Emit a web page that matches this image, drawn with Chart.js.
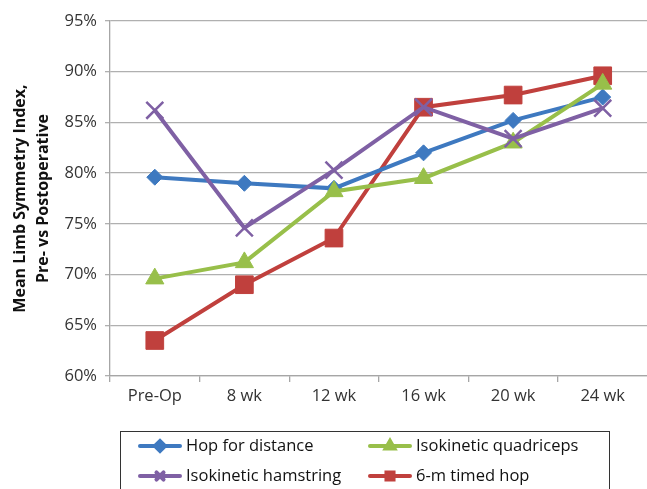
<!DOCTYPE html>
<html>
<head>
<meta charset="utf-8">
<script src="https://cdn.jsdelivr.net/npm/chart.js@4"></script>
<style>
  html, body { margin: 0; padding: 0; background: #fff; overflow: hidden; width: 647px; height: 489px; }
  canvas { display: block; }
</style>
</head>
<body>
<!-- canvas is a bit wider than the window: chart.js keeps ~15px on the right, that part is cut off -->
<canvas id="lsiChart" width="662" height="489"></canvas>
<script>
// categories and series (values in %)
var weeks = ['Pre-Op', '8 wk', '12 wk', '16 wk', '20 wk', '24 wk'];
var hopDistance = [79.6, 79.0, 78.5, 82.0, 85.2, 87.5];
var isoQuad = [69.6, 71.2, 78.2, 79.5, 83.0, 88.8];
var isoHam = [86.2, 74.6, 80.3, 86.5, 83.4, 86.4];
var timedHop = [63.5, 69.0, 73.6, 86.5, 87.7, 89.6];

var FONT = "'Open Sans', 'Liberation Sans', sans-serif";

//-----------------custom boxed legend-----------------------
const boxLegend = {
  id: 'boxLegend',
  afterDraw(chart) {
    const ctx = chart.ctx;
    ctx.save();
    ctx.strokeStyle = '#333';
    ctx.lineWidth = 1;
    ctx.strokeRect(120.5, 431.5, 489, 70);
    // legend order: row by row, two columns
    const slots = [
      { ds: 0, x: 140, y: 446 },
      { ds: 1, x: 370, y: 446 },
      { ds: 2, x: 140, y: 476 },
      { ds: 3, x: 370, y: 476 }
    ];
    slots.forEach(function(s) {
      const d = chart.data.datasets[s.ds];
      ctx.strokeStyle = d.borderColor;
      ctx.fillStyle = d.backgroundColor;
      ctx.lineWidth = 4;
      ctx.lineCap = 'round';
      ctx.beginPath();
      ctx.moveTo(s.x, s.y);
      ctx.lineTo(s.x + 40, s.y);
      ctx.stroke();
      Chart.helpers.drawPoint(ctx, {
        pointStyle: d.pointStyle,
        radius: 5,
        borderWidth: d.pointStyle === 'crossRot' ? 2.5 : 1
      }, s.x + 20, s.y);
      ctx.fillStyle = '#111';
      ctx.font = '16.5px ' + FONT;
      ctx.textBaseline = 'middle';
      ctx.textAlign = 'left';
      ctx.fillText(d.label, s.x + 46, s.y);
    });
    ctx.restore();
  }
};

const lsiChart = new Chart(document.getElementById('lsiChart'), {
  type: 'line',
  data: {
    labels: weeks,
    datasets: [{
      label: 'Hop for distance',
      data: hopDistance,
      borderColor: '#3e79c0',
      backgroundColor: '#3e79c0',
      pointStyle: 'rectRot',
      pointRadius: 8,
      order: 2
    }, {
      label: 'Isokinetic quadriceps',
      data: isoQuad,
      borderColor: '#98bf4a',
      backgroundColor: '#98bf4a',
      pointStyle: 'triangle',
      pointRadius: 10.5,
      order: 1
    }, {
      label: 'Isokinetic hamstring',
      data: isoHam,
      borderColor: '#7f60a4',
      backgroundColor: '#7f60a4',
      pointStyle: 'crossRot',
      pointRadius: 12,
      pointBorderWidth: 2.5,
      order: 0
    }, {
      label: '6-m timed hop',
      data: timedHop,
      borderColor: '#c0403d',
      backgroundColor: '#c0403d',
      pointStyle: 'rect',
      pointRadius: 12.5,
      order: 3
    }]
  },
  options: {
    responsive: false,
    animation: false,
    layout: { padding: { top: 21, right: 0, bottom: 0, left: 0 } },
    elements: {
      line: { borderWidth: 4, tension: 0 },
      point: { borderWidth: 1 }
    },
    plugins: {
      legend: { display: false },
      tooltip: { enabled: false }
    },
    scales: {
      x: {
        offset: true,
        grid: {
          offset: true,
          drawOnChartArea: false,
          drawTicks: true,
          tickLength: 6,
          color: '#a6a6a6',
          lineWidth: 1.3
        },
        border: { color: '#a6a6a6', width: 1.3 },
        ticks: {
          color: '#333',
          padding: 4,
          font: { family: FONT, size: 16.5 }
        },
        afterFit: function(scale) {
          scale.height = 113;
        }
      },
      y: {
        min: 60,
        max: 95,
        ticks: {
          stepSize: 5,
          color: '#333',
          padding: 8,
          font: { family: FONT, size: 16.5 },
          callback: function(v) { return v + '%'; }
        },
        grid: {
          color: '#b0b0b0',
          lineWidth: 1.3,
          drawTicks: true,
          tickLength: 5
        },
        border: { color: '#a6a6a6', width: 1.3 },
        title: {
          display: true,
          text: ['Mean Limb Symmetry Index,', 'Pre- vs Postoperative'],
          color: '#111',
          font: { family: FONT, size: 16, weight: 'bold', lineHeight: 1.45 },
          padding: { top: 9, bottom: 0 }
        },
        afterFit: function(scale) { scale.width = 110; }
      }
    }
  },
  plugins: [boxLegend]
});
</script>
</body>
</html>
